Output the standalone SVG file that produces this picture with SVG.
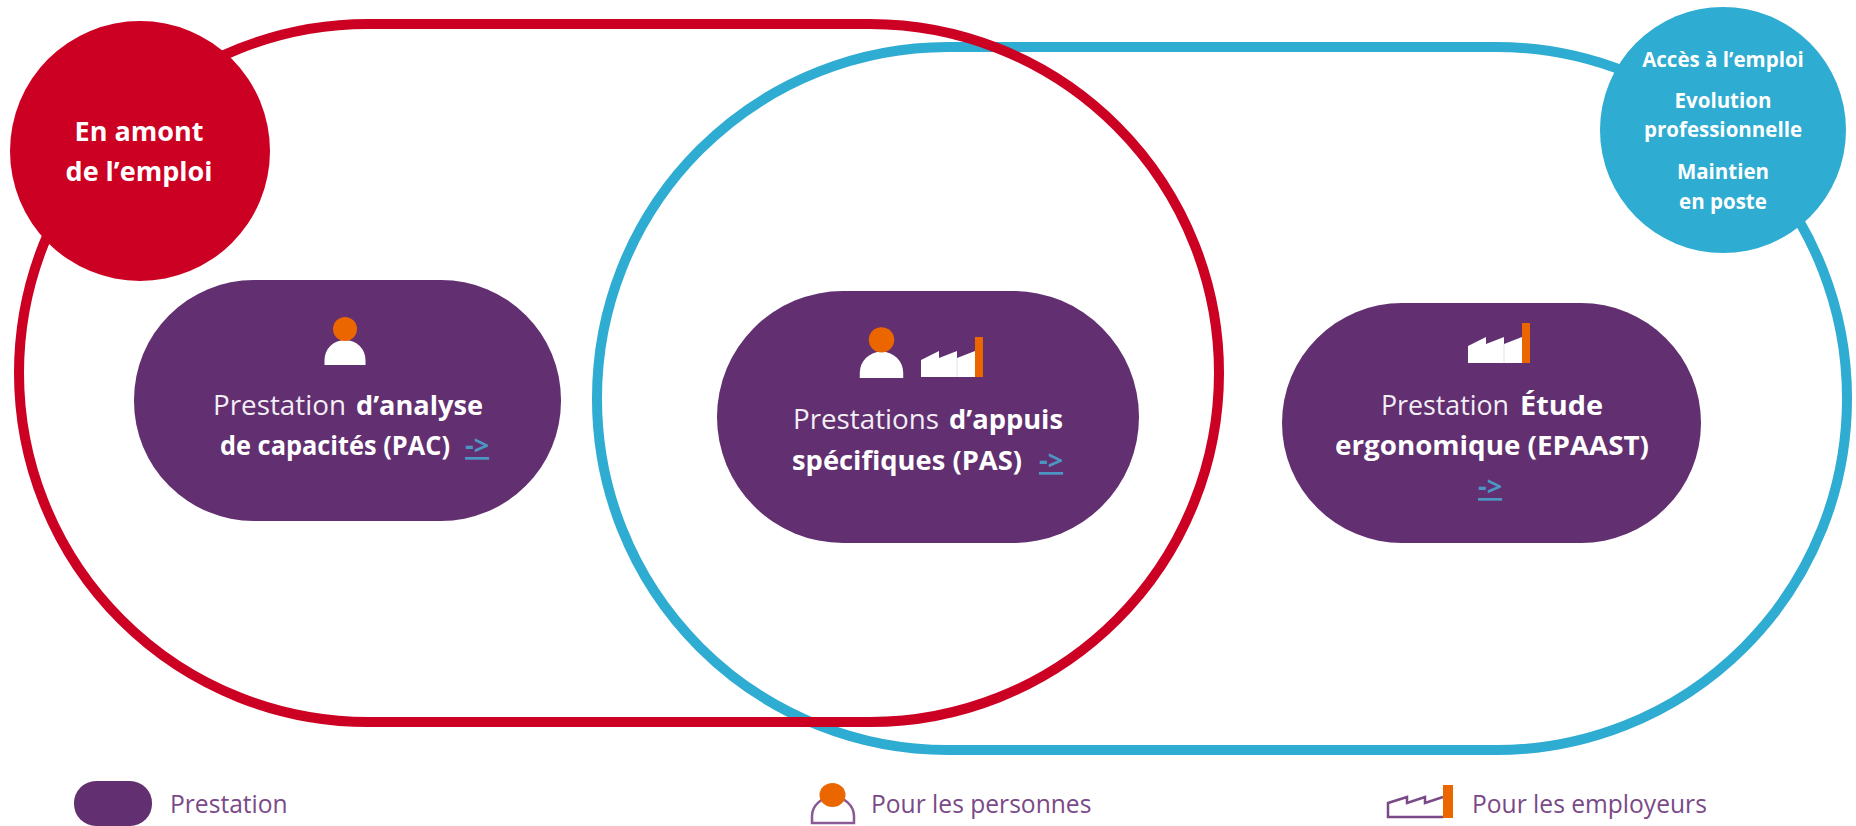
<svg xmlns="http://www.w3.org/2000/svg" width="1856" height="826" viewBox="0 0 1856 826">
<style>
text{font-family:"Open Sans","Liberation Sans",sans-serif;text-anchor:middle}
.p{fill:#622f70}
.w{fill:#fff}
.o{fill:#ec6600}
.t,.b{font-size:27px;text-anchor:start}
.t{fill:#f3eef5}
.b{font-weight:700;fill:#fff}
.a{font-size:27px;font-weight:700;fill:#4c96c4;text-anchor:start}
.l{font-size:24.600px;fill:#7a4a88;text-anchor:start}
.c{font-size:20.500px;font-weight:700;fill:#fff}
.r{font-size:27px;font-weight:700;fill:#fff}
.sep{stroke:#e6dfe9;stroke-width:1}
</style>
<defs>
<g id="person"><path class="w" d="M-20.500 27v-5a20.500 20 0 0 1 41 0v5z"/><circle class="o" cx="0" cy="-9" r="12"/></g>
<g id="factory"><path class="w" d="M0 0v-17l18-9v7l18-7v7l18-7v26z"/><path class="sep" d="M36-19V0"/><rect class="o" x="54" y="-40" width="8" height="40"/></g>
</defs>
<g id="connectors" fill="none" stroke-width="10">
<rect x="597" y="47" width="1250" height="703" rx="351" stroke="#2eacd1"/>
<rect x="19" y="24" width="1200" height="698" rx="349" stroke="#cc0022"/>
</g>
<g id="amont"><circle cx="140" cy="151" r="130" fill="#cc0022"/><text class="r" x="139" y="141">En amont</text><text class="r" x="139" y="181">de l’emploi</text></g>
<g id="acces"><circle cx="1723" cy="130" r="123" fill="#2eacd1"/><text class="c" x="1723" y="67">Accès à l’emploi</text><text class="c" x="1723" y="108">Evolution</text><text class="c" x="1723" y="137">professionnelle</text><text class="c" x="1723" y="179">Maintien</text><text class="c" x="1723" y="209">en poste</text></g>
<g id="pac"><rect class="p" x="134" y="280" width="427" height="241" rx="120"/><use href="#person" x="345" y="338"/><text class="t" x="213" y="415" textLength="133" lengthAdjust="spacingAndGlyphs">Prestation</text><text class="b" x="356" y="415" textLength="127" lengthAdjust="spacingAndGlyphs">d’analyse</text><text class="b" x="220" y="455" textLength="230" lengthAdjust="spacingAndGlyphs">de capacités (PAC)</text><text class="a" x="465" y="455" text-decoration="underline">-&gt;</text></g>
<g id="pas"><rect class="p" x="717" y="291" width="422" height="252" rx="126"/><use href="#person" transform="translate(881.500 349.400) scale(1.060)"/><use href="#factory" x="921" y="377"/><text class="t" x="793" y="429" textLength="146" lengthAdjust="spacingAndGlyphs">Prestations</text><text class="b" x="949" y="429" textLength="114" lengthAdjust="spacingAndGlyphs">d’appuis</text><text class="b" x="792" y="470" textLength="230" lengthAdjust="spacingAndGlyphs">spécifiques (PAS)</text><text class="a" x="1039" y="470" text-decoration="underline">-&gt;</text></g>
<g id="epaast"><rect class="p" x="1282" y="303" width="419" height="240" rx="120"/><use href="#factory" x="1468" y="363"/><text class="t" x="1381" y="415" textLength="128" lengthAdjust="spacingAndGlyphs">Prestation</text><text class="b" x="1520" y="415" textLength="83" lengthAdjust="spacingAndGlyphs">Étude</text><text class="b" x="1335" y="455" textLength="314" lengthAdjust="spacingAndGlyphs">ergonomique (EPAAST)</text><text class="a" x="1478" y="496" text-decoration="underline">-&gt;</text></g>
<g id="legend-prestation"><rect class="p" x="74" y="781" width="78" height="45" rx="22"/><text class="l" x="170" y="813">Prestation</text></g>
<g id="legend-personnes"><path d="M812 823v-7a21 19 0 0 1 42 0v7z" fill="#fff" stroke="#8a5a96" stroke-width="2.500"/><ellipse class="o" cx="832.500" cy="795" rx="13" ry="12"/><text class="l" x="871" y="813">Pour les personnes</text></g>
<g id="legend-employeurs"><path d="M1443 817H1388V803l19-6v6l18-6v6l18-6" fill="none" stroke="#7a4a88" stroke-width="2.500"/><rect class="o" x="1443" y="785" width="10" height="33"/><text class="l" x="1472" y="813">Pour les employeurs</text></g>
</svg>
